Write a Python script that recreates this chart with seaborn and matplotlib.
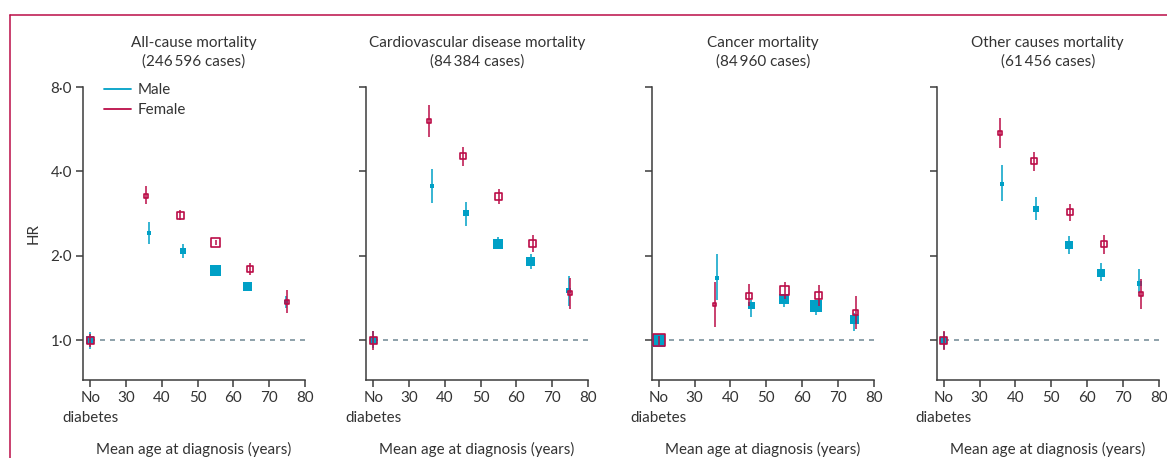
import numpy as np
import pandas as pd
import matplotlib
matplotlib.use("Agg")
import matplotlib.pyplot as plt
from matplotlib.lines import Line2D
import seaborn as sns

# =========================
# data
# =========================
titles = [
    "All-cause mortality\n(246\u2009596 cases)",
    "Cardiovascular disease mortality\n(84\u2009384 cases)",
    "Cancer mortality\n(84\u2009960 cases)",
    "Other causes mortality\n(61\u2009456 cases)",
]

# x position 20 = "No diabetes"
male_age = [20, 36.3, 45.8, 55, 64, 74.6]
female_age = [20, 35.6, 45.2, 55.1, 64.6, 75]

male_hr = [
    [1.0, 2.41, 2.08, 1.77, 1.56, 1.37],
    [1.0, 3.55, 2.85, 2.21, 1.91, 1.50],
    [1.0, 1.67, 1.33, 1.40, 1.32, 1.19],
    [1.0, 3.62, 2.95, 2.18, 1.74, 1.59],
]
male_lo = [
    [0.93, 2.20, 1.96, 1.74, 1.53, 1.30],
    [0.94, 3.08, 2.56, 2.11, 1.80, 1.32],
    [0.96, 1.39, 1.21, 1.31, 1.23, 1.08],
    [0.93, 3.14, 2.68, 2.03, 1.63, 1.47],
]
male_hi = [
    [1.07, 2.64, 2.21, 1.80, 1.59, 1.44],
    [1.08, 4.07, 3.12, 2.33, 2.03, 1.69],
    [1.04, 2.03, 1.39, 1.45, 1.39, 1.25],
    [1.07, 4.22, 3.25, 2.35, 1.88, 1.79],
]
female_hr = [
    [1.0, 3.28, 2.79, 2.23, 1.80, 1.37],
    [1.0, 6.07, 4.54, 3.26, 2.21, 1.48],
    [1.0, 1.34, 1.44, 1.50, 1.44, 1.26],
    [1.0, 5.50, 4.36, 2.86, 2.20, 1.46],
]
female_lo = [
    [0.95, 3.05, 2.68, 2.19, 1.71, 1.25],
    [0.92, 5.32, 4.18, 3.05, 2.07, 1.29],
    [0.96, 1.12, 1.32, 1.40, 1.32, 1.10],
    [0.92, 4.84, 4.01, 2.67, 2.03, 1.29],
]
female_hi = [
    [1.05, 3.54, 2.92, 2.27, 1.89, 1.51],
    [1.08, 6.90, 4.90, 3.47, 2.37, 1.67],
    [1.04, 1.62, 1.59, 1.62, 1.58, 1.44],
    [1.08, 6.19, 4.70, 3.06, 2.37, 1.66],
]
# relative marker weight (square side, px)
male_w = [
    [8, 4, 6, 11, 9, 4],
    [7, 4, 6, 10, 9, 5],
    [13, 4, 7, 10, 12, 9],
    [7, 4, 6, 8, 8, 5],
]
female_w = [
    [8, 5, 8, 10, 7, 5],
    [8, 5, 7, 8, 8, 5],
    [13, 4, 7, 10, 8, 6],
    [8, 5, 7, 7, 7, 5],
]

yticks = [1, 2, 4, 8]
ytick_labels = ["1\u00b70", "2\u00b70", "4\u00b70", "8\u00b70"]
xticks = [20, 30, 40, 50, 60, 70, 80]
xtick_labels = ["No\ndiabetes", "30", "40", "50", "60", "70", "80"]

MALE = "#00a0c6"
FEMALE = "#bb0d48"
SPINE = "#3c3c3c"
TEXT = "#333333"
TICK_FS = 10.9
LABEL_FS = 10.9
TITLE_FS = 11

sns.set_theme(style="white")
plt.rcParams["font.family"] = ["Lato", "DejaVu Sans"]

W, H = 1167, 458
fig = plt.figure(figsize=(W / 100, H / 100), dpi=100)

lefts = [83, 366, 651.7, 936.7]
ax_w = 222
ax_top = 87
ax_bot = 380

for i in range(4):
    ax = fig.add_axes([lefts[i] / W, 1 - ax_bot / H, ax_w / W, (ax_bot - ax_top) / H])

    ax.set_yscale("log", base=2)
    ax.set_ylim(0.722, 8.0)
    ax.set_xlim(18, 80)

    ax.plot([20, 80], [1, 1], ls=(0, (3, 3)), color="#7a919c", lw=1.2, zorder=1)

    male = pd.DataFrame({"age": male_age, "hr": male_hr[i], "lo": male_lo[i],
                         "hi": male_hi[i], "w": male_w[i]})
    female = pd.DataFrame({"age": female_age, "hr": female_hr[i], "lo": female_lo[i],
                           "hi": female_hi[i], "w": female_w[i]})

    ax.vlines(male["age"], male["lo"], male["hi"], color=MALE, lw=1.1, zorder=2)
    sns.scatterplot(data=male, x="age", y="hr", marker="s", color=MALE,
                    s=(male["w"] * 0.72) ** 2, linewidth=0, ax=ax, zorder=3)

    ax.vlines(female["age"], female["lo"], female["hi"], color=FEMALE, lw=1.1, zorder=4)
    sns.scatterplot(data=female, x="age", y="hr", marker="s", facecolor="none",
                    edgecolor=FEMALE, s=((female["w"] - 1) * 0.72) ** 2,
                    linewidth=1.2, ax=ax, zorder=5)

    ax.set_yticks(yticks)
    ax.minorticks_off()
    ax.set_xticks(xticks)
    ax.set_xticklabels(xtick_labels, color=TEXT, linespacing=1.55)
    if i == 0:
        ax.set_yticklabels(ytick_labels, color=TEXT)
        ax.set_ylabel("HR", color=TEXT, labelpad=7, fontsize=LABEL_FS)
    else:
        ax.set_yticklabels([])
        ax.set_ylabel("")

    ax.set_xlabel("Mean age at diagnosis (years)", color=TEXT, labelpad=12,
                  fontsize=LABEL_FS)
    ax.set_title(titles[i], color=TEXT, pad=15, linespacing=1.4, fontsize=TITLE_FS)

    for s in ["top", "right"]:
        ax.spines[s].set_visible(False)
    for s in ["left", "bottom"]:
        ax.spines[s].set_color(SPINE)
        ax.spines[s].set_linewidth(1.1)
    ax.tick_params(axis="both", direction="out", length=5, width=1.1, color=SPINE,
                   labelsize=TICK_FS, pad=3, bottom=True, left=True)
    for lab in ax.get_xticklabels():
        lab.set_multialignment("center")

    if i == 0:
        handles = [Line2D([0], [0], color=MALE, lw=1.3),
                   Line2D([0], [0], color=FEMALE, lw=1.3)]
        ax.legend(handles, ["Male", "Female"], loc="upper left", frameon=False,
                  bbox_to_anchor=(0.035, 1.06), handlelength=1.75, handletextpad=0.45,
                  labelspacing=0.4, fontsize=LABEL_FS, labelcolor=TEXT)

# outer frame of the figure panel
fig.add_artist(Line2D([9.5 / W, 1], [1 - 14.5 / H, 1 - 14.5 / H], color=FEMALE,
                      lw=1.1, transform=fig.transFigure))
fig.add_artist(Line2D([9.5 / W, 9.5 / W], [0, 1 - 14.5 / H], color=FEMALE,
                      lw=1.1, transform=fig.transFigure))

fig.savefig("out.png", dpi=100, facecolor="white")
